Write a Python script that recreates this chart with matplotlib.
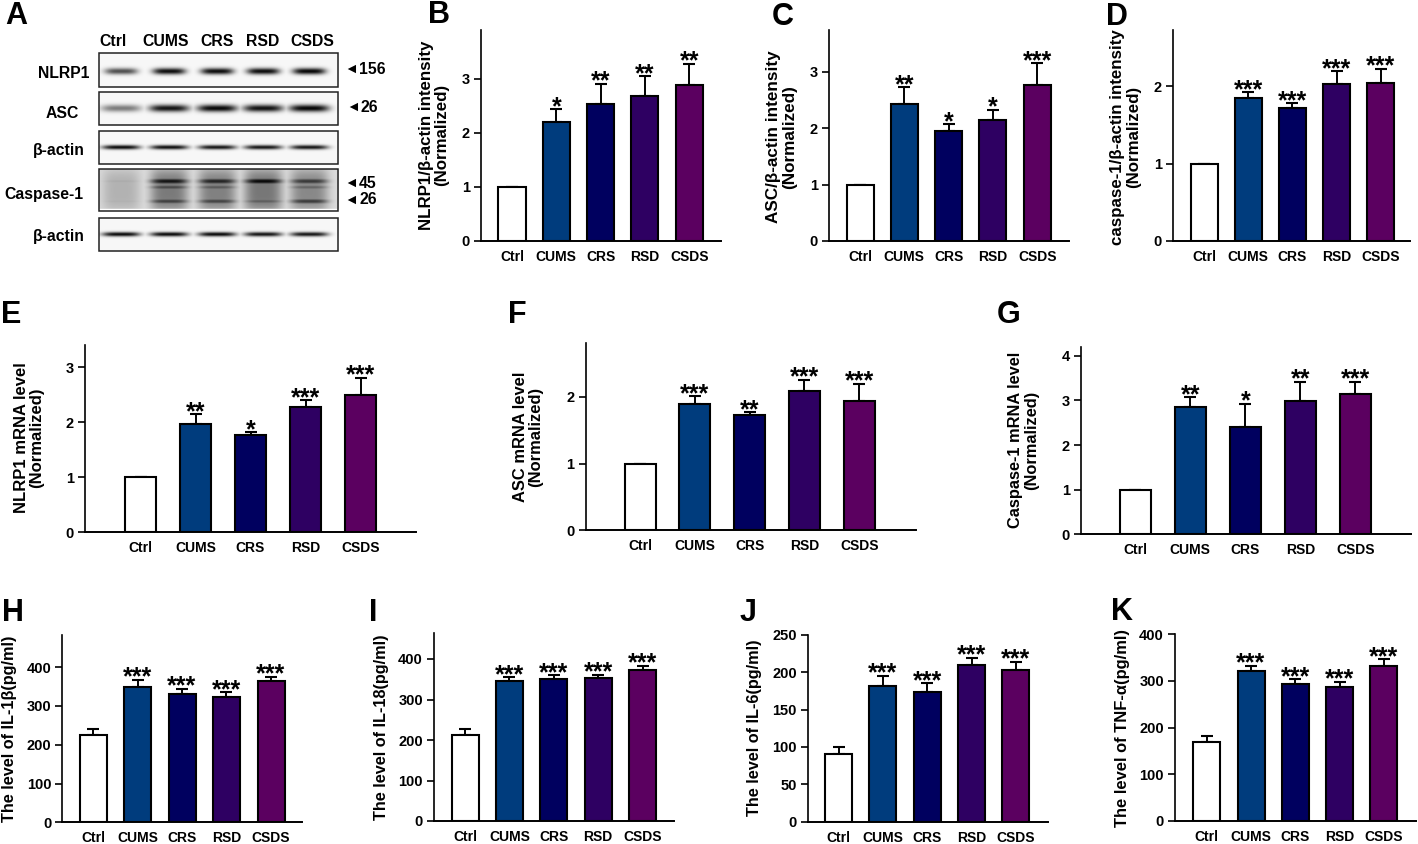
import matplotlib
matplotlib.use("Agg")
import matplotlib.pyplot as plt
import numpy as np

W, H = 1418, 844

plt.rcParams['font.family'] = ['Liberation Sans', 'DejaVu Sans']

groups = ["Ctrl", "CUMS", "CRS", "RSD", "CSDS"]
bar_colors = ["white", "#003c7d", "#00005f", "#2e0062", "#5b0060"]

# values and upper error tops
nlrp1_wb = [1, 2.2, 2.52, 2.68, 2.88]
nlrp1_wb_err = [0, 0.23, 0.38, 0.36, 0.39]
nlrp1_wb_sig = ["", "*", "**", "**", "**"]

asc_wb = [1, 2.42, 1.94, 2.14, 2.76]
asc_wb_err = [0, 0.3, 0.13, 0.18, 0.39]
asc_wb_sig = ["", "**", "*", "*", "***"]

casp1_wb = [1, 1.84, 1.72, 2.02, 2.04]
casp1_wb_err = [0, 0.08, 0.06, 0.17, 0.18]
casp1_wb_sig = ["", "***", "***", "***", "***"]

nlrp1_mrna = [1, 1.97, 1.77, 2.28, 2.49]
nlrp1_mrna_err = [0, 0.18, 0.05, 0.12, 0.32]
nlrp1_mrna_sig = ["", "**", "*", "***", "***"]

asc_mrna = [1, 1.9, 1.73, 2.09, 1.94]
asc_mrna_err = [0, 0.11, 0.04, 0.17, 0.26]
asc_mrna_sig = ["", "***", "**", "***", "***"]

casp1_mrna = [1, 2.86, 2.41, 2.98, 3.15]
casp1_mrna_err = [0, 0.21, 0.52, 0.44, 0.27]
casp1_mrna_sig = ["", "**", "*", "**", "***"]

il1b = [225, 350, 331, 323, 365]
il1b_err = [15, 17, 13, 12, 10]
il18 = [213, 345, 350, 352, 373]
il18_err = [14, 10, 10, 9, 10]
il6 = [90, 182, 173, 209, 203]
il6_err = [10, 13, 12, 10, 11]
tnfa = [170, 321, 292, 287, 332]
tnfa_err = [11, 11, 11, 11, 14]
elisa_sig = ["", "***", "***", "***", "***"]

# blot band darkness per lane
lane_names = ["Ctrl", "CUMS", "CRS", "RSD", "CSDS"]
band_nlrp1 = [0.68, 0.95, 0.95, 0.95, 0.98]
band_asc = [0.5, 0.92, 0.97, 0.93, 0.98]
band_actin1 = [0.97, 0.95, 0.92, 0.92, 0.92]
band_casp45 = [0.22, 0.92, 0.85, 0.97, 0.75]
band_casp45_low = [0.15, 0.68, 0.6, 0.42, 0.55]
band_casp26 = [0.2, 0.72, 0.7, 0.58, 0.74]
band_actin2 = [0.97, 0.97, 0.97, 0.93, 0.92]


def fx(px):
    return px / W


def fy(py):
    return 1 - py / H


fig = plt.figure(figsize=(W / 100, H / 100), dpi=100)


def label(px, py, s, **kw):
    kw.setdefault("ha", "center")
    kw.setdefault("va", "center")
    kw.setdefault("fontweight", "bold")
    fig.text(fx(px), fy(py), s, **kw)


def bar_panel(letter, letter_pos, box, c0, step, ppu, ticks, vals, errs, sig, ylab, ylab_pos, ylab_size):
    # box is axis x, right end, top and bottom in pixels
    left, right, top, bottom = box
    ax = fig.add_axes([fx(left), fy(bottom), fx(right - left), (bottom - top) / H])
    x = np.arange(len(vals))
    ax.bar(x, vals, width=27 / step if step < 50 else 31 / step, color=bar_colors,
           edgecolor="black", linewidth=1.5, zorder=3)
    ax.errorbar(x, vals, yerr=[np.zeros(len(errs)), errs], fmt="none", ecolor="black",
                elinewidth=1.4, capsize=4, capthick=1.5, zorder=2)
    for xi, v, e, s in zip(x, vals, errs, sig):
        if s:
            ax.annotate(s, (xi, v + e), xytext=(0, -3.5), textcoords="offset points",
                        ha="center", va="baseline", fontsize=18, fontweight="bold",
                        color="black", family="Liberation Sans")
    ax.set_xlim((left - c0) / step, (right - c0) / step)
    ax.set_ylim(0, (bottom - top) / ppu)
    ax.set_xticks(x, groups, fontweight="bold", fontsize=10)
    ax.set_yticks(ticks, [str(t) for t in ticks], fontweight="bold", fontsize=10.5)
    ax.tick_params(axis="x", length=0, pad=6.5)
    ax.tick_params(axis="y", length=5, width=1.2, pad=3)
    for side in ("top", "right"):
        ax.spines[side].set_visible(False)
    ax.spines["left"].set_linewidth(1.2)
    ax.spines["bottom"].set_linewidth(1.4)
    ax.patch.set_alpha(0)
    label(ylab_pos[0], ylab_pos[1], ylab, rotation=90, fontsize=ylab_size, linespacing=1.05,
          multialignment="center")
    label(letter_pos[0], letter_pos[1], letter, fontsize=22, ha="left")


def blot_strip(ax, y0, y1, rows, background=0.97, lane_w=20, smear=0.0):
    # rows: list of (band y, half thickness, darkness per lane)
    xs = np.arange(99, 339, 0.5)
    ys = np.arange(y0, y1, 0.5)
    xx, yy = np.meshgrid(xs, ys)
    lanes = [121, 169, 217, 263, 309]
    dark = np.zeros_like(xx)
    for band_y, half, values in rows:
        for lx, d in zip(lanes, values):
            shape = np.exp(-((xx - lx) / lane_w) ** 4)
            dark = np.maximum(dark, d * shape * np.exp(-((yy - band_y) / half) ** 2))
            if smear:
                soft = np.exp(-((yy - (y0 + y1) / 2) / 22) ** 4)
                dark = np.maximum(dark, smear * (0.3 + d) * shape * soft)
    img = background - dark * background
    ax.imshow(img, extent=(99, 339, y1, y0), cmap="gray", vmin=0, vmax=1, aspect="auto",
              interpolation="bilinear", zorder=1)
    ax.add_patch(plt.Rectangle((99, y0), 239, y1 - y0, fill=False, edgecolor="#222222",
                               linewidth=1.1, zorder=3))


# panel A
blot = fig.add_axes([0, 0, 1, 1])
blot_strip(blot, 53, 87, [(71, 3.2, band_nlrp1)], lane_w=16.5)
blot_strip(blot, 92, 125, [(108, 3.6, band_asc)], lane_w=20)
blot_strip(blot, 131, 164, [(147, 2.2, band_actin1)], lane_w=19)
blot_strip(blot, 169, 211, [(181, 3.2, band_casp45), (187, 2.8, band_casp45_low), (201, 3.0, band_casp26)],
           background=0.86, lane_w=19, smear=0.36)
blot.add_patch(plt.Rectangle((99, 208.5), 239, 2, color="white", zorder=2))
blot_strip(blot, 218, 251, [(234, 2.2, band_actin2)], lane_w=19)
blot.set_xlim(0, W)
blot.set_ylim(H, 0)
blot.axis("off")

for name, cx in zip(lane_names, [113, 166, 217, 263, 312]):
    label(cx, 41, name, fontsize=11.3)
for name, cx, cy in [("NLRP1", 64, 74), ("ASC", 62, 113), ("β-actin", 59, 150),
                     ("Caspase-1", 44, 195), ("β-actin", 59, 236)]:
    label(cx, cy, name, fontsize=11.3)
for mw, ax_x, tx, cy in [("156", 351, 372, 69), ("26", 353, 369, 107),
                         ("45", 351, 368, 183), ("26", 351, 368, 200)]:
    label(ax_x, cy, "\u25c4", fontsize=10)
    label(tx, cy, mw, fontsize=11.3)
label(5, 16, "A", fontsize=22, ha="left")

bar_panel("B", (428, 15), (481, 721, 30, 240.5), 512, 44.3, 54, [0, 1, 2, 3],
          nlrp1_wb, nlrp1_wb_err, nlrp1_wb_sig,
          "NLRP1/β-actin intensity\n(Normalized)", (434, 135), 12.2)
bar_panel("C", (772, 17), (829, 1069, 30, 241), 860, 44.3, 56.5, [0, 1, 2, 3],
          asc_wb, asc_wb_err, asc_wb_sig,
          "ASC/β-actin intensity\n(Normalized)", (781.5, 137), 12.3)
bar_panel("D", (1106, 17), (1173, 1410, 30, 241), 1204, 44.2, 77.5, [0, 1, 2],
          casp1_wb, casp1_wb_err, casp1_wb_sig,
          "caspase-1/β-actin intensity\n(Normalized)", (1125.5, 137), 12.2)

bar_panel("E", (1, 315), (85, 416, 345, 532.3), 140.5, 55, 55, [0, 1, 2, 3],
          nlrp1_mrna, nlrp1_mrna_err, nlrp1_mrna_sig,
          "NLRP1 mRNA level\n(Normalized)", (29, 438), 12)
bar_panel("F", (508, 315), (585.5, 915.5, 342.7, 530), 640, 54.8, 66.5, [0, 1, 2],
          asc_mrna, asc_mrna_err, asc_mrna_sig,
          "ASC mRNA level\n(Normalized)", (528, 437), 11.85)
bar_panel("G", (997, 315), (1081, 1411, 346.5, 534.3), 1135.3, 55, 44.6, [0, 1, 2, 3, 4],
          casp1_mrna, casp1_mrna_err, casp1_mrna_sig,
          "Caspase-1 mRNA level\n(Normalized)", (1023.5, 440), 11.75)

bar_panel("H", (2, 612.7), (62.3, 302, 635, 822.3), 93, 44.5, 0.388, [0, 100, 200, 300, 400],
          il1b, il1b_err, elisa_sig, "The level of IL-1β(pg/ml)", (9.5, 729), 11.7)
bar_panel("I", (369, 613), (434, 674, 633.3, 821), 465, 44.4, 0.405, [0, 100, 200, 300, 400],
          il18, il18_err, elisa_sig, "The level of IL-18(pg/ml)", (381, 727), 11.7)
bar_panel("J", (739.5, 613), (808, 1047.5, 634.7, 821.7), 838.6, 44.3, 0.748, [0, 50, 100, 150, 200, 250],
          il6, il6_err, elisa_sig, "The level of IL-6(pg/ml)", (755, 728), 11.7)
bar_panel("K", (1111, 612), (1175, 1416, 634, 821), 1206.7, 44.3, 0.4675, [0, 100, 200, 300, 400],
          tnfa, tnfa_err, elisa_sig, "The level of TNF-α(pg/ml)", (1122, 728), 11.9)

fig.savefig("out.png", dpi=100)
